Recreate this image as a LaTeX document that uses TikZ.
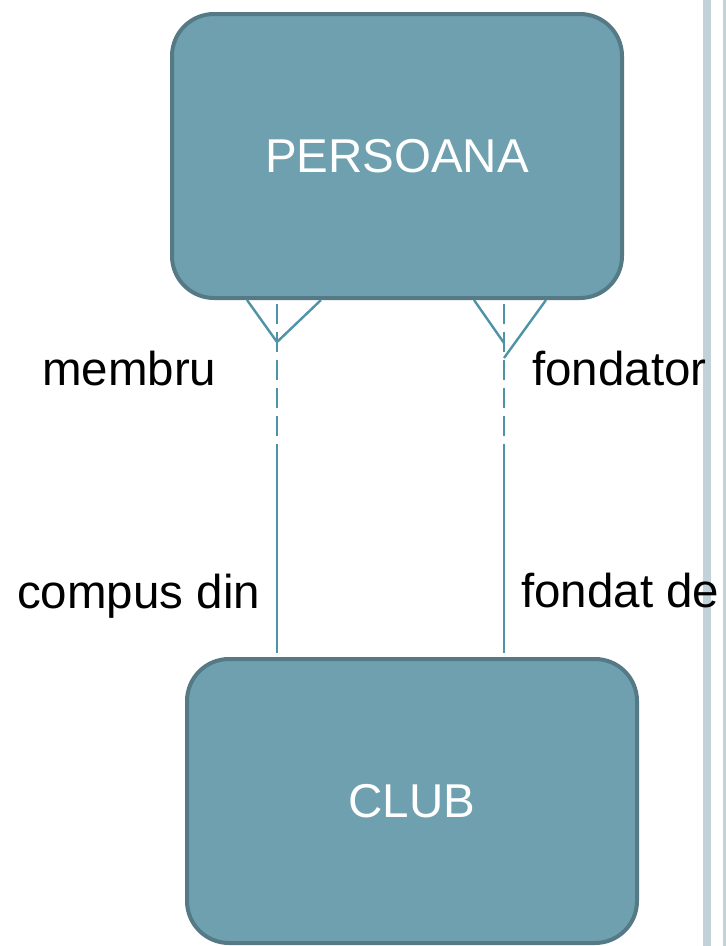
\documentclass[tikz,border=0pt]{standalone}
\usepackage{fontspec}
\setmainfont{Liberation Sans}
\definecolor{boxfill}{HTML}{6FA0AF}
\definecolor{boxedge}{HTML}{557A86}
\definecolor{linkcol}{HTML}{4E93A6}
\definecolor{barcol}{HTML}{C2D2D9}
\tikzset{
  entity/.style={rectangle, rounded corners=42pt, fill=boxfill, draw=boxedge, line width=4pt,
    minimum width=450pt, minimum height=284pt, inner sep=0pt, text=white,
    font=\fontsize{47.5}{57}\selectfont},
  lbl/.style={inner sep=0pt, anchor=base west, text=black, font=\fontsize{47.5}{57}\selectfont},
  link/.style={draw=linkcol, line width=2.4pt},
  dashlink/.style={link, dash pattern=on 20pt off 8pt},
}
\begin{document}
\begin{tikzpicture}[x=1pt,y=-1pt]
\useasboundingbox (0,0) rectangle (726,946);
% side bars
\fill[barcol] (703,0) rectangle (711,946);
\fill[barcol] (723,0) rectangle (726,946);
% entities
\node[entity] (persoana) at (397,156) {PERSOANA};
\node[entity] (club) at (412,801) {CLUB};
% coordinates
\coordinate (la1) at (247,300);
\coordinate (la2) at (321,300);
\coordinate (lapex) at (277,342);
\coordinate (ltop) at (277,304);
\coordinate (lmid) at (277,472);
\coordinate (lmid2) at (277,449);
\coordinate (lbot) at (277,653);
\coordinate (ra1) at (474,300);
\coordinate (ra2) at (546,300);
\coordinate (rapex1) at (504,343);
\coordinate (rapex2) at (504,358);
\coordinate (rtop) at (504,304);
\coordinate (rmid) at (504,472);
\coordinate (rmid2) at (504,449);
\coordinate (rbot) at (504,653);
% connectors
\draw[dashlink] (ltop) -- (lmid);
\draw[link] (lmid2) -- (lbot);
\draw[link] (la1) -- (lapex) -- (la2);
\draw[dashlink] (rtop) -- (rmid);
\draw[link] (rmid2) -- (rbot);
\draw[link] (ra1) -- (rapex1);
\draw[link] (ra2) -- (rapex2);
% labels
\node[lbl] (membru) at (42,385) {membru};
\node[lbl] (fondator) at (532,385) {fondator};
\node[lbl] (compus) at (17,608) {compus din};
\node[lbl] (fondat) at (521,607) {fondat de};
\end{tikzpicture}
\end{document}
